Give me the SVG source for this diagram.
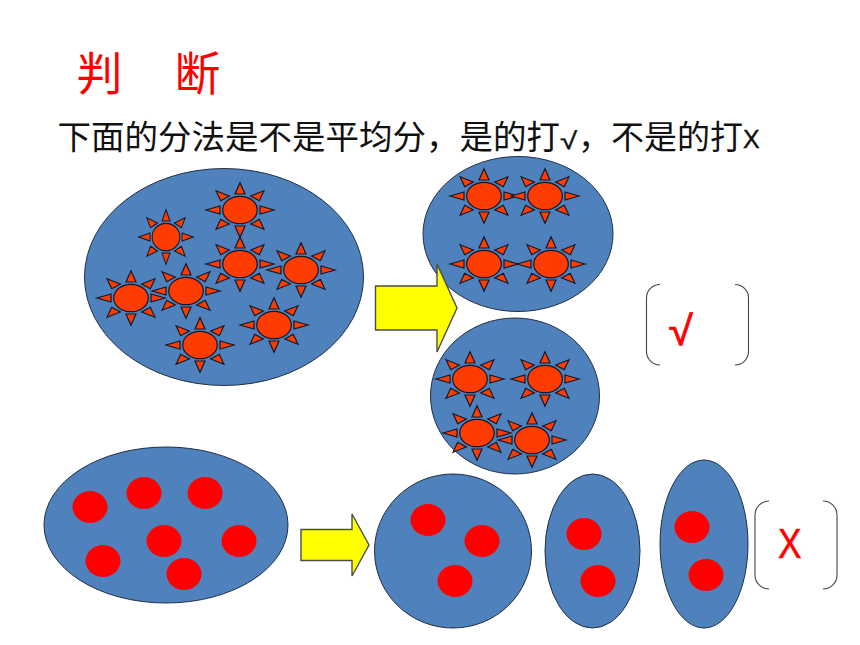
<svg xmlns="http://www.w3.org/2000/svg" width="860" height="645" viewBox="0 0 860 645">
<style>
.blob{fill:#4f81bd;stroke:#1f2f45;stroke-width:1}
.dot{fill:#ff0000}
.ray,.core{fill:#ff3c00;stroke:#10182a;stroke-width:1.2}
.arrow{fill:#ffff00;stroke:#4a4f45;stroke-width:1.4}
.brk{fill:none;stroke:#444;stroke-width:1.1}
.cjk{font-family:"Noto Sans CJK SC","Liberation Sans",sans-serif}
.latin{font-family:"Liberation Sans","DejaVu Sans",sans-serif}
.red{fill:#ff0000}
</style>
<defs>
<g id="sun">
<ellipse class="core" cx="0" cy="0" rx="17.3" ry="13.7"/>
<path class="ray" d="M0-27.3L5-16H-5ZM0 27.3L5 16H-5ZM-34 0L-20-4V4ZM34 0L20-4V4ZM-24-19.3L-10.7-14L-19.3-9.3ZM24-19.3L10.7-14L19.3-9.3ZM-24 19.3L-10.7 14L-19.3 9.3ZM24 19.3L10.700 14L19.3 9.3Z"/>
</g>
</defs>
<g id="title"><text class="cjk red" x="76.500" y="90" font-size="46">判</text><text class="cjk red" x="174.500" y="90" font-size="46">断</text></g>
<g id="prompt" fill="#111">
<text class="cjk" x="57.500" y="149" font-size="33.500">下面的分法是不是平均分，是的打</text>
<text class="latin" font-size="24" stroke="#111" stroke-width=".4" transform="translate(560 149) scale(1.3 1)">√</text>
<text class="cjk" x="578" y="149" font-size="33">，不是的打</text>
<text class="latin" x="743" y="148" font-size="25" stroke="#111" stroke-width=".4">X</text>
</g>
<g id="group-a">
<ellipse class="blob" cx="224" cy="277" rx="139.500" ry="108.500"/>
<use href="#sun" transform="translate(166 237) scale(.8 1)"/>
<use href="#sun" x="240" y="210"/><use href="#sun" x="240" y="264"/><use href="#sun" x="301" y="270"/>
<use href="#sun" x="131" y="298"/><use href="#sun" x="186" y="291"/><use href="#sun" x="274" y="325"/><use href="#sun" x="200" y="345"/>
</g>
<g id="group-a1">
<ellipse class="blob" cx="518" cy="234" rx="95" ry="77.500"/>
<use href="#sun" x="484" y="196"/><use href="#sun" x="545" y="196"/><use href="#sun" x="484" y="264"/><use href="#sun" x="551" y="264"/>
</g>
<g id="group-a2">
<ellipse class="blob" cx="515" cy="396" rx="84.500" ry="78"/>
<use href="#sun" x="470" y="379"/><use href="#sun" x="545" y="379"/><use href="#sun" x="477" y="433"/><use href="#sun" x="532" y="440"/>
</g>
<g id="group-b">
<ellipse class="blob" cx="166" cy="525" rx="122" ry="78"/>
<ellipse class="dot" cx="90" cy="507" rx="17.500" ry="16"/><ellipse class="dot" cx="144" cy="493" rx="17.500" ry="16"/><ellipse class="dot" cx="205" cy="493" rx="17.500" ry="16"/>
<ellipse class="dot" cx="103" cy="561" rx="17.500" ry="16"/><ellipse class="dot" cx="164" cy="541" rx="17.500" ry="16"/><ellipse class="dot" cx="239" cy="541" rx="17.500" ry="16"/><ellipse class="dot" cx="184" cy="574" rx="17.500" ry="16"/>
</g>
<g id="group-b1">
<ellipse class="blob" cx="453" cy="551" rx="78.500" ry="77"/>
<ellipse class="dot" cx="428" cy="520" rx="17.500" ry="16"/><ellipse class="dot" cx="482" cy="541" rx="17.500" ry="16"/><ellipse class="dot" cx="455" cy="581" rx="17.500" ry="16"/>
</g>
<g id="group-b2">
<ellipse class="blob" cx="592.500" cy="551" rx="47.500" ry="77"/>
<ellipse class="dot" cx="584" cy="534" rx="17.500" ry="16"/><ellipse class="dot" cx="598" cy="581" rx="17.500" ry="16"/>
</g>
<g id="group-b3">
<ellipse class="blob" cx="704" cy="544" rx="44" ry="84"/>
<ellipse class="dot" cx="692" cy="527" rx="17.500" ry="16"/><ellipse class="dot" cx="706" cy="575" rx="17.500" ry="16"/>
</g>
<g id="connectors">
<path class="arrow" d="M375.500 286H437V264L457 308L437 352V330H375.500Z"/>
<path class="arrow" d="M301 529.500H352V514L369 545L352 576V560.500H301Z"/>
</g>
<g id="answer-a">
<path class="brk" d="M660 284.500A13.500 13.500 0 0 0 646.500 298V351.500A13.500 13.500 0 0 0 660 365M735 284.500A13.500 13.500 0 0 1 748.500 298V351.500A13.500 13.500 0 0 1 735 365"/>
<text class="latin red" font-size="41" stroke="#ff0000" stroke-width=".8" transform="translate(668.500 345) scale(1.08 1)">√</text>
</g>
<g id="answer-b">
<path class="brk" d="M769 501A14 14 0 0 0 755 515V575A14 14 0 0 0 769 589M823 501A14 14 0 0 1 837 515V575A14 14 0 0 1 823 589"/>
<text class="latin red" font-size="43" stroke="#ff0000" stroke-width=".5" transform="translate(778 558) scale(.82 1)">X</text>
</g>
</svg>
